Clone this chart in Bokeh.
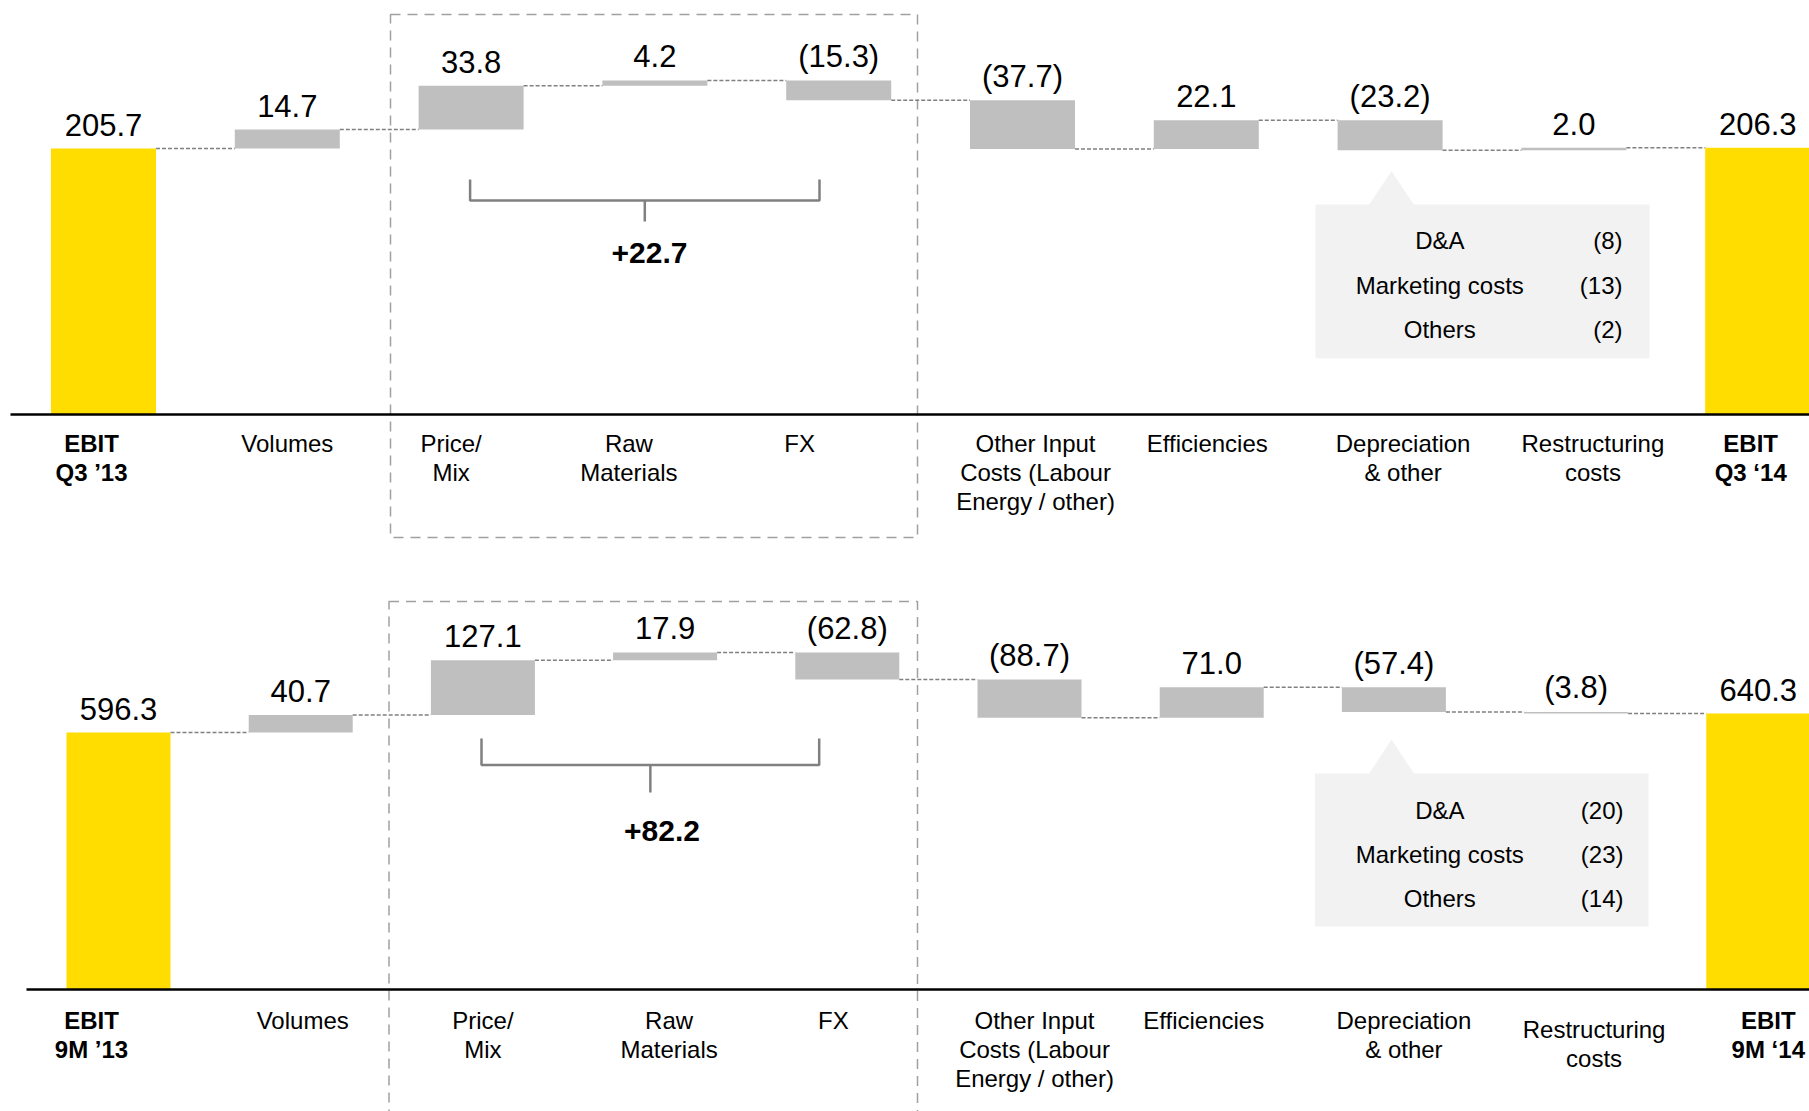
from bokeh.plotting import figure
from bokeh.layouts import column
from bokeh.models import Range1d, ColumnDataSource
from bokeh.core.properties import value
from bokeh.embed import file_html
from bokeh.resources import INLINE

# ---------------------------------------------------------------- data
q3_categories = ["EBIT\nQ3 \u201913", "Volumes", "Price/\nMix", "Raw\nMaterials", "FX",
                 "Other Input\nCosts (Labour\nEnergy / other)", "Efficiencies",
                 "Depreciation\n& other", "Restructuring\ncosts", "EBIT\nQ3 \u201814"]
q3_values = [205.7, 14.7, 33.8, 4.2, -15.3, -37.7, 22.1, -23.2, 2.0, 206.3]
q3_detail_items = ["D&A", "Marketing costs", "Others"]
q3_detail_values = [-8, -13, -2]

m9_categories = ["EBIT\n9M \u201913", "Volumes", "Price/\nMix", "Raw\nMaterials", "FX",
                 "Other Input\nCosts (Labour\nEnergy / other)", "Efficiencies",
                 "Depreciation\n& other", "Restructuring\ncosts", "EBIT\n9M \u201814"]
m9_values = [596.3, 40.7, 127.1, 17.9, -62.8, -88.7, 71.0, -57.4, -3.8, 640.3]
m9_detail_items = ["D&A", "Marketing costs", "Others"]
m9_detail_values = [-20, -23, -14]

# steps summed under the bracket (Price/Mix, Raw Materials, FX)
bracket_group = [2, 3, 4]

# ---------------------------------------------------------------- style
W = 1809
FONT = "Liberation Sans"
YELLOW = "#FFDD00"
BAR_GREY = "#BFBFBF"
LINE_GREY = "#808080"
BOX_GREY = "#A0A0A0"
CALLOUT_BG = "#F2F2F2"
# the renderer puts the "alphabetic" line a bit below the glyph baseline
BASELINE_FIX = 0.37

# page-pixel layout of each panel
q3_layout = dict(
    height=556, base=414, ppu=1.293, x0=103, step=183.8, bar_px=105, axis_x0=10,
    box=(390, 917, 14, 537),
    label_top=429, label_dx=[-12, 0, -20, -26, -39, 13, 1, 13, 19, -7],
    label_dy=[0] * 10,
    bracket=(469.6, 819, 179, 200, 221), total_pos=(649, 263.5),
    callout=(1315, 1649, 204, 357.7), apex=(1391, 170.7), apex_half=23,
    rows=[249, 294, 338.3], name_x=1439.3, value_right=1622,
)
m9_layout = dict(
    height=555, base=433, ppu=0.431, x0=118, step=182.2, bar_px=104, axis_x0=26,
    box=(388.5, 917, 45, 600),
    label_top=450.5, label_dx=[-27, 2, 0, 4, -14, 5, -8, 10, 18, 10],
    label_dy=[0, 0, 0, 0, 0, 0, 0, 0, 9, 0],
    bracket=(481, 818.7, 182, 208.5, 236), total_pos=(661.5, 286),
    callout=(1314.5, 1648, 217, 370), apex=(1391, 183), apex_half=23,
    rows=[262.7, 306.8, 350.8], name_x=1439.3, value_right=1623,
)


def fmt_step(v):
    return f"({abs(v):.1f})" if v < 0 else f"{v:.1f}"


def fmt_int(v):
    return f"({abs(v)})" if v < 0 else f"{v}"


def waterfall(vals):
    n = len(vals)
    bottoms, tops, levels = [], [], []
    run = 0.0
    for i, v in enumerate(vals):
        if i == 0 or i == n - 1:
            b, t = 0.0, v
            run = v
        else:
            b, t = min(run, run + v), max(run, run + v)
            run += v
        bottoms.append(b)
        tops.append(t)
        levels.append(run)
    return bottoms, tops, levels


def build_panel(categories, vals, items, item_vals, L):
    H = L["height"]

    def X(px):
        return (px - L["x0"]) / L["step"]

    def Y(py):
        return (L["base"] - py) / L["ppu"]

    def DX(px):
        return px / L["step"]

    def DY(px):
        return px / L["ppu"]

    p = figure(width=W, height=H, x_range=Range1d(X(0), X(W)), y_range=Range1d(Y(H), Y(0)),
               output_backend="svg", toolbar_location=None, min_border=0,
               x_axis_location=None, y_axis_location=None, outline_line_color=None,
               background_fill_color="white", border_fill_color="white")
    p.xgrid.visible = False
    p.ygrid.visible = False

    n = len(vals)
    idx = list(range(n))
    bottoms, tops, levels = waterfall(vals)
    w = DX(L["bar_px"])

    # dashed frame around the commercial steps
    bl, br, bt, bb = L["box"]
    p.quad(left=[X(bl)], right=[X(br)], top=[Y(bt)], bottom=[Y(bb)], fill_color=None,
           line_color=BOX_GREY, line_width=1.5, line_dash="10 7")

    # callout with the breakdown of Depreciation & other
    cl, cr, ct, cb = L["callout"]
    p.quad(left=[X(cl)], right=[X(cr)], top=[Y(ct)], bottom=[Y(cb)],
           fill_color=CALLOUT_BG, line_color=None)
    ax, ay = L["apex"]
    hw = L["apex_half"]
    p.patch(x=[X(ax - hw), X(ax), X(ax + hw)], y=[Y(ct + 1), Y(ay), Y(ct + 1)],
            fill_color=CALLOUT_BG, line_color=None)
    fix24 = BASELINE_FIX * 24
    rows = ColumnDataSource(dict(
        name_x=[X(L["name_x"])] * len(items), val_x=[X(L["value_right"])] * len(items),
        y=[Y(r - fix24) for r in L["rows"]], name=items, val=[fmt_int(v) for v in item_vals]))
    p.text(x="name_x", y="y", text="name", source=rows, text_font=value(FONT),
           text_font_size="24px", text_align="center", text_baseline="alphabetic",
           text_color="#000000")
    p.text(x="val_x", y="y", text="val", source=rows, text_font=value(FONT),
           text_font_size="24px", text_align="right", text_baseline="alphabetic",
           text_color="#000000")

    # bars
    colors = [YELLOW if i in (0, n - 1) else BAR_GREY for i in idx]
    bars = ColumnDataSource(dict(x=idx, bottom=bottoms, top=tops, color=colors))
    p.vbar(x="x", bottom="bottom", top="top", width=w, fill_color="color",
           line_color=None, source=bars)

    # dotted connectors between consecutive bars
    p.segment(x0=[i + w / 2 for i in idx[:-1]], x1=[i + 1 - w / 2 for i in idx[:-1]],
              y0=levels[:-1], y1=levels[:-1], line_color=LINE_GREY, line_width=1.5,
              line_dash="4 2")

    # baseline
    p.segment(x0=[X(L["axis_x0"])], x1=[X(W + 5)], y0=[0], y1=[0],
              line_color="#000000", line_width=2.5)

    # value labels above each bar
    gap = 12.5 + BASELINE_FIX * 31
    labels = ColumnDataSource(dict(x=idx, y=[t + DY(gap) for t in tops],
                                   text=[fmt_step(v) for v in vals]))
    p.text(x="x", y="y", text="text", source=labels, text_font=value(FONT),
           text_font_size="31px", text_align="center", text_baseline="alphabetic",
           text_color="#000000")

    # category names under the baseline
    cat_x = [i + DX(d) for i, d in zip(idx, L["label_dx"])]
    cat_y = [Y(L["label_top"] + d) for d in L["label_dy"]]
    for bold in (False, True):
        sel = [i for i in idx if (i in (0, n - 1)) == bold]
        src = ColumnDataSource(dict(x=[cat_x[i] for i in sel], y=[cat_y[i] for i in sel],
                                    text=[categories[i] for i in sel]))
        p.text(x="x", y="y", text="text", source=src, text_font=value(FONT),
               text_font_size="24px", text_font_style="bold" if bold else "normal",
               text_align="center", text_baseline="top", text_line_height=1.075,
               text_color="#000000")

    # bracket summarising the commercial steps
    xl, xr, yt, ym, ys = L["bracket"]
    xm = (xl + xr) / 2
    p.line(x=[X(xl), X(xl), X(xr), X(xr)], y=[Y(yt), Y(ym), Y(ym), Y(yt)],
           line_color=LINE_GREY, line_width=2.5)
    p.line(x=[X(xm), X(xm)], y=[Y(ym), Y(ys)], line_color=LINE_GREY, line_width=2.5)
    total = sum(vals[i] for i in bracket_group)
    tx, ty = L["total_pos"]
    p.text(x=[X(tx)], y=[Y(ty - BASELINE_FIX * 30)], text=[f"+{total:.1f}"],
           text_font=value(FONT), text_font_size="30px", text_font_style="bold",
           text_align="center", text_baseline="alphabetic", text_color="#000000")
    return p


top = build_panel(q3_categories, q3_values, q3_detail_items, q3_detail_values, q3_layout)
bottom = build_panel(m9_categories, m9_values, m9_detail_items, m9_detail_values, m9_layout)

page = column(top, bottom, spacing=0)
open("out.html", "w").write(file_html(page, INLINE))
